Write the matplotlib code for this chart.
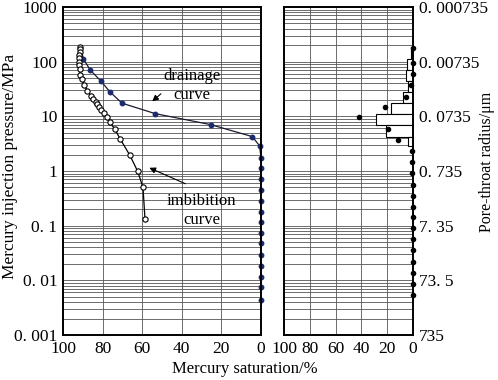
import matplotlib
matplotlib.use("Agg")
import matplotlib.pyplot as plt
import numpy as np
from matplotlib.ticker import FixedLocator, LogLocator, NullFormatter, FixedFormatter

plt.rcParams['font.family'] = ['Liberation Serif', 'DejaVu Serif']

# ---------------- data ----------------
# drainage (mercury injection) curve
drain_sat = [91.2, 89.7, 86.2, 80.8, 76.3, 70.2, 53.4, 25.4, 4.4, 0.7,
             0, 0, 0, 0, 0, 0, 0, 0, 0, 0, 0, 0, 0, 0]
drain_p = [188, 112, 70, 44, 28, 17.4, 11.2, 7.05, 4.26, 2.88,
           1.76, 1.12, 0.72, 0.45, 0.288, 0.181, 0.119, 0.0748, 0.0479,
           0.0292, 0.0184, 0.0117, 0.0074, 0.0044]

# imbibition (withdrawal) curve
imb_sat = [91.2, 91.4, 91.6, 91.7, 91.8, 91.8, 91.8, 91.6, 91.4, 90.4, 89.4,
           87.7, 86.0, 84.7, 83.5, 82.7, 81.8, 80.7, 79.3, 78.0, 76.4, 73.9,
           71.2, 66.2, 62.3, 59.6, 58.6]
imb_p = [188, 169, 149, 131, 115, 100, 87, 73, 58, 48, 37.5,
         29.5, 23.9, 20.5, 18.6, 16.6, 14.9, 13.1, 11.4, 9.6, 7.8, 5.9,
         3.9, 1.93, 0.99, 0.50, 0.133]

# pore-throat radius distribution (histogram bins, um) and frequency (%)
bin_edges_r = [0.00391, 0.00656, 0.0104, 0.0167, 0.0262, 0.0425, 0.0656,
               0.104, 0.173, 0.255]
bin_freq = [1.5, 4.5, 5.4, 3.5, 7.5, 17.3, 28.7, 20.9, 4.1]

# pore-throat radius distribution points
dist_r = [0.00418, 0.00766, 0.0123, 0.0196, 0.0321, 0.050, 0.077, 0.125,
          0.201, 0.315, 0.50, 0.808, 1.32, 2.09, 3.28, 5.14, 8.17, 13.0,
          20.9, 33.3, 52.9, 85.2, 135]
dist_freq = [0, 0.2, 0.2, 1.8, 5.4, 21.7, 41.9, 19.6, 11.8, 0.8, 0.4, 0.4,
             0, 0, 0, 0, 0, 0, 0, 0, 0, 0, 0]

sat_ticks = [100, 80, 60, 40, 20, 0]
p_ticks = [1000, 100, 10, 1, 0.1, 0.01, 0.001]
p_labels = ["1000", "100", "10", "1", "0. 1", "0. 01", "0. 001"]
r_ticks = [0.000735, 0.00735, 0.0735, 0.735, 7.35, 73.5, 735]
r_labels = ["0. 000735", "0. 00735", "0. 0735", "0. 735", "7. 35", "73. 5", "735"]

# ---------------- figure ----------------
W, H = 498, 380
fig = plt.figure(figsize=(W / 100, H / 100), dpi=100)
ax1 = fig.add_axes([63 / W, 1 - 335 / H, (261 - 63) / W, (335 - 7) / H])
ax2 = fig.add_axes([284 / W, 1 - 335 / H, (413 - 284) / W, (335 - 7) / H])

grid_kw = dict(color='#555555', lw=0.6)
navy = '#1c2a6e'

# left panel
ax1.set_yscale('log')
ax1.set_ylim(0.001, 1000)
ax1.set_xlim(100, 0)
ax1.yaxis.set_major_locator(FixedLocator(p_ticks))
ax1.yaxis.set_major_formatter(FixedFormatter(p_labels))
ax1.yaxis.set_minor_locator(LogLocator(base=10, subs=range(2, 10), numticks=20))
ax1.yaxis.set_minor_formatter(NullFormatter())
ax1.set_xticks(sat_ticks)
ax1.set_xticklabels([str(t) for t in sat_ticks])
ax1.grid(True, which='both', axis='y', **grid_kw)
ax1.grid(True, which='major', axis='x', **grid_kw)

ax1.plot(drain_sat, drain_p, '-', color='#1a1a2e', lw=0.9, zorder=3)
ax1.plot(drain_sat[1:], drain_p[1:], 'o', color=navy, ms=3.2, zorder=4,
         clip_on=False, mec=navy)
ax1.plot(imb_sat, imb_p, '-', color='black', lw=0.9, zorder=3)
ax1.plot(imb_sat, imb_p, 'o', mfc='white', mec='black', ms=3.8, mew=0.8,
         zorder=5)

ax1.text(35, 36, "drainage\ncurve", ha='center', va='center', fontsize=12,
         linespacing=1.25, zorder=6)
ax1.annotate("", xy=(56, 17.4), xytext=(49.5, 27.9),
             arrowprops=dict(arrowstyle='-|>', color='black', lw=0.8,
                             mutation_scale=9), zorder=6)
ax1.text(30, 0.19, "imbibition\ncurve", ha='center', va='center', fontsize=12,
         linespacing=1.25, zorder=6)
ax1.annotate("", xy=(57.7, 1.2), xytext=(36.9, 0.557),
             arrowprops=dict(arrowstyle='-|>', color='black', lw=0.8,
                             mutation_scale=9), zorder=6)

ax1.set_ylabel("Mercury injection pressure/MPa", fontsize=12.5)
ax1.yaxis.set_label_coords((10.5 - 63) / 198, 0.515)
ax1.yaxis.label.set_verticalalignment('center')

# right panel
ax2.set_yscale('log')
ax2.set_ylim(735, 0.000735)
ax2.set_xlim(100, 0)
ax2.yaxis.set_major_locator(FixedLocator(r_ticks))
ax2.yaxis.set_major_formatter(FixedFormatter(r_labels))
minor_r = [0.735 / (m * 10.0 ** k) for k in range(-3, 3) for m in range(2, 10)]
ax2.yaxis.set_minor_locator(FixedLocator(minor_r))
ax2.yaxis.set_minor_formatter(NullFormatter())
ax2.yaxis.tick_right()
ax2.yaxis.set_label_position('right')
ax2.set_xticks(sat_ticks)
ax2.set_xticklabels([str(t) for t in sat_ticks])
ax2.grid(True, which='both', axis='y', **grid_kw)
ax2.grid(True, which='major', axis='x', **grid_kw)

lows = bin_edges_r[:-1]
heights = [b - a for a, b in zip(bin_edges_r[:-1], bin_edges_r[1:])]
ax2.barh(lows, bin_freq, height=heights, left=0, align='edge',
         color='white', edgecolor='black', lw=0.8, zorder=3)
ax2.plot(dist_freq, dist_r, 'o', color='black', ms=3.0, zorder=4,
         clip_on=False)
ax2.set_ylabel("Pore-throat radius/\u03bcm", fontsize=11.5, rotation=90)
ax2.yaxis.set_label_coords((487 - 284) / 129, 0.527)
ax2.yaxis.label.set_verticalalignment('center')

for ax in (ax1, ax2):
    for s in ax.spines.values():
        s.set_linewidth(1.4)
        s.set_color('black')
        s.set_zorder(7)
    ax.tick_params(axis='both', which='both', length=0, labelsize=12.5,
                   pad=4)
    ax.set_axisbelow(True)

fig.text(245 / W, 1 - 369 / H, "Mercury saturation/%", ha='center',
         va='center', fontsize=12)

fig.savefig("out.png", dpi=100)
